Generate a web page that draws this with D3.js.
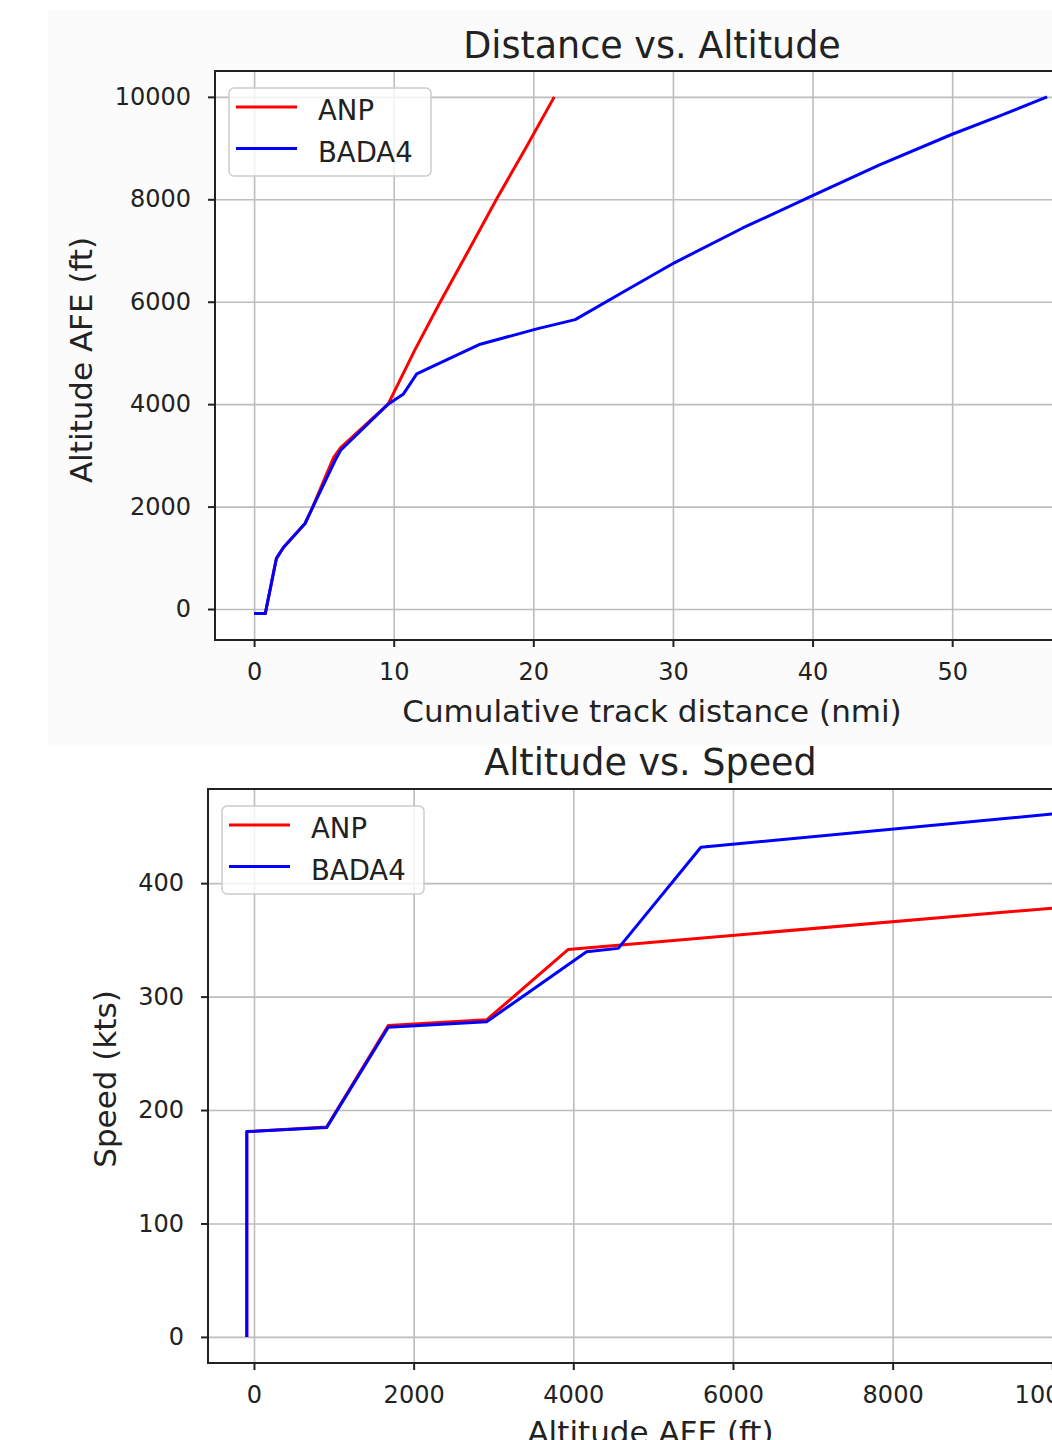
<!DOCTYPE html>
<html>
<head>
<meta charset="utf-8">
<script src="https://cdn.jsdelivr.net/npm/d3@7"></script>
<style>
  html, body { margin: 0; padding: 0; background: #ffffff; }
  svg { display: block; }
  text { font-family: "DejaVu Sans", sans-serif; fill: #222; }
</style>
</head>
<body>
<svg id="chart" width="1052" height="1440"></svg>
<script>
// ---------- Data ----------
const seriesNames = ["ANP", "BADA4"];
const seriesColors = ["#ff0000", "#0000ff"];

// Chart 1: Distance vs. Altitude
const distANP   = [0, 0.8, 1.6, 2.1, 3.65, 4.1, 5.7, 6.2, 9.6, 11.5, 13.3, 15.4, 17.4, 19.5, 21.5];
const altANP    = [-90, -90, 990, 1200, 1670, 1930, 2960, 3150, 4000, 5050, 5980, 7020, 8020, 9020, 10000];
const distBADA4 = [0, 0.8, 1.6, 2.1, 3.65, 4.1, 5.8, 6.2, 9.6, 10.7, 11.65, 13.9, 16.2, 20.25, 23.0, 26.5, 30.1, 35, 40, 44.8, 50, 53.5, 56.8];
const altBADA4  = [-90, -90, 990, 1200, 1670, 1930, 2900, 3100, 4000, 4200, 4590, 4880, 5170, 5470, 5650, 6200, 6760, 7440, 8070, 8670, 9270, 9640, 10000];

// Chart 2: Altitude vs. Speed
const spdAltANP   = [-90, -90, 910, 1682, 2914, 3937, 10000];
const speedANP    = [0, 181, 185, 274.5, 279.5, 341.6, 378];
const spdAltBADA4 = [-90, -90, 910, 1682, 2914, 4166, 4563, 5598, 10000];
const speedBADA4  = [0, 181, 184.5, 273, 277.8, 339.5, 342.5, 431.7, 461];

// Axis limits and ticks
const xLim1 = [-2.8, 59.8],  yLim1 = [-605, 10505];
const xTicks1 = [0, 10, 20, 30, 40, 50], yTicks1 = [0, 2000, 4000, 6000, 8000, 10000];
const xLim2 = [-576, 10510], yLim2 = [-23, 483];
const xTicks2 = [0, 2000, 4000, 6000, 8000, 10000], yTicks2 = [0, 100, 200, 300, 400];

// ---------- Drawing ----------
const svg = d3.select("#chart");
svg.append("rect").attr("x", 48).attr("y", 10).attr("width", 1004).attr("height", 735).attr("fill", "#fbfbfb");

function panel(cfg) {
  const g = svg.append("g");
  const x = d3.scaleLinear().domain(cfg.xLim).range([cfg.left, cfg.right]);
  const y = d3.scaleLinear().domain(cfg.yLim).range([cfg.bottom, cfg.top]);

  // axes background
  g.append("rect").attr("x", cfg.left).attr("y", cfg.top)
    .attr("width", cfg.right - cfg.left).attr("height", cfg.bottom - cfg.top).attr("fill", "#fff");

  // grid
  g.append("g").attr("transform", `translate(0,${cfg.bottom})`)
    .call(d3.axisBottom(x).tickValues(cfg.xTicks).tickSize(-(cfg.bottom - cfg.top)).tickFormat(""))
    .call(a => a.select(".domain").remove())
    .call(a => a.selectAll("line").attr("stroke", "#bdbdbd").attr("stroke-width", 1.6));
  g.append("g").attr("transform", `translate(${cfg.left},0)`)
    .call(d3.axisLeft(y).tickValues(cfg.yTicks).tickSize(-(cfg.right - cfg.left)).tickFormat(""))
    .call(a => a.select(".domain").remove())
    .call(a => a.selectAll("line").attr("stroke", "#bdbdbd").attr("stroke-width", 1.6));

  // lines
  cfg.series.forEach((s, i) => {
    const pts = s.x.map((v, k) => [v, s.y[k]]);
    g.append("path").datum(pts)
      .attr("fill", "none").attr("stroke", seriesColors[i]).attr("stroke-width", 3)
      .attr("stroke-linejoin", "round")
      .attr("d", d3.line().x(d => x(d[0])).y(d => y(d[1])));
  });

  // frame
  g.append("rect").attr("x", cfg.left).attr("y", cfg.top)
    .attr("width", cfg.right - cfg.left).attr("height", cfg.bottom - cfg.top)
    .attr("fill", "none").attr("stroke", "#222").attr("stroke-width", 2);

  // tick axes
  g.append("g").attr("transform", `translate(0,${cfg.bottom})`)
    .call(d3.axisBottom(x).tickValues(cfg.xTicks).tickSize(7).tickPadding(16).tickFormat(d3.format("d")))
    .call(a => a.select(".domain").remove())
    .call(a => a.selectAll("line").attr("stroke", "#222").attr("stroke-width", 2))
    .call(a => a.selectAll("text").attr("font-size", 24).attr("fill", "#222").style("font-family", "DejaVu Sans"));
  g.append("g").attr("transform", `translate(${cfg.left},0)`)
    .call(d3.axisLeft(y).tickValues(cfg.yTicks).tickSize(7).tickPadding(17).tickFormat(d3.format("d")))
    .call(a => a.select(".domain").remove())
    .call(a => a.selectAll("line").attr("stroke", "#222").attr("stroke-width", 2))
    .call(a => a.selectAll("text").attr("font-size", 24).attr("fill", "#222").style("font-family", "DejaVu Sans"));

  // title and labels
  const cx = (cfg.left + cfg.right) / 2;
  g.append("text").attr("x", cx).attr("y", cfg.titleY).attr("text-anchor", "middle")
    .attr("font-size", 36.5).text(cfg.title);
  g.append("text").attr("x", cx).attr("y", cfg.xLabelY).attr("text-anchor", "middle")
    .attr("font-size", 31).text(cfg.xLabel);
  g.append("text").attr("transform", `translate(${cfg.yLabelX},${cfg.yLabelCY}) rotate(-90)`)
    .attr("text-anchor", "middle").attr("font-size", 31).text(cfg.yLabel);

  // legend
  const lx = cfg.left + 14, ly = cfg.top + 17;
  const lg = g.append("g").attr("transform", `translate(${lx},${ly})`);
  lg.append("rect").attr("width", 202).attr("height", 88).attr("rx", 5)
    .attr("fill", "rgba(255,255,255,0.8)").attr("stroke", "#cccccc").attr("stroke-width", 1.5);
  seriesNames.forEach((n, i) => {
    const yy = 19 + i * 41.5;
    lg.append("line").attr("x1", 7).attr("x2", 68).attr("y1", yy).attr("y2", yy)
      .attr("stroke", seriesColors[i]).attr("stroke-width", 3);
    lg.append("text").attr("x", 89).attr("y", yy + 13).attr("font-size", 27.5).text(n);
  });
}

panel({
  left: 215, right: 1089, top: 71, bottom: 640,
  xLim: xLim1, yLim: yLim1, xTicks: xTicks1, yTicks: yTicks1,
  title: "Distance vs. Altitude", titleY: 58,
  xLabel: "Cumulative track distance (nmi)", xLabelY: 722,
  yLabel: "Altitude AFE (ft)", yLabelX: 92, yLabelCY: 360,
  series: [{x: distANP, y: altANP}, {x: distBADA4, y: altBADA4}]
});

panel({
  left: 208, right: 1093, top: 789, bottom: 1363,
  xLim: xLim2, yLim: yLim2, xTicks: xTicks2, yTicks: yTicks2,
  title: "Altitude vs. Speed", titleY: 775,
  xLabel: "Altitude AFE (ft)", xLabelY: 1443,
  yLabel: "Speed (kts)", yLabelX: 116, yLabelCY: 1079,
  series: [{x: spdAltANP, y: speedANP}, {x: spdAltBADA4, y: speedBADA4}]
});
</script>
</body>
</html>
